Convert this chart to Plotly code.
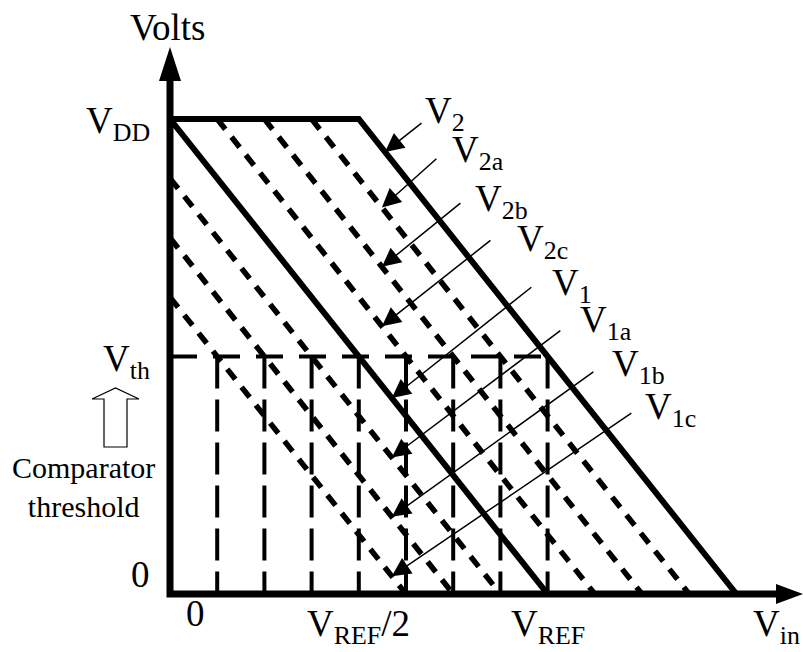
import plotly.graph_objects as go

# ---- chart values -------------------------------------------------------
VDD = 1.0          # supply level (top of every ramp)
VTH = 0.5          # comparator threshold
RUN = 8.0          # input steps for a ramp to fall from VDD to 0

ramp_names = ["V<sub>1c</sub>", "V<sub>1b</sub>", "V<sub>1a</sub>", "V<sub>1</sub>",
              "V<sub>2c</sub>", "V<sub>2b</sub>", "V<sub>2a</sub>", "V<sub>2</sub>"]
ramp_offsets = [-3, -2, -1, 0, 1, 2, 3, 4]          # input shift of each ramp
ramp_solid = [False, False, False, True, False, False, False, True]

x_tick_pos = [0.55, 4.0, 8.0]
x_tick_text = ["0", "V<sub>REF</sub>/2", "V<sub>REF</sub>"]
y_tick_pos = [VDD, VTH, 0.0]
y_tick_text = ["V<sub>DD</sub>", "V<sub>th</sub>", "0"]

# where each leader arrow touches its ramp (input value)
leader_tip_x = [4.70, 4.70, 4.70, 4.70, 4.49, 4.49, 4.49, 4.555]

# ---- canvas geometry ----------------------------------------------------
W, H = 803, 652
X0_PX, XSTEP_PX = 170.0, 47.2      # pixel of input 0 and of one input step
Y0_PX, YSPAN_PX = 594.0, 475.0     # pixel of 0 V and height of VDD
X_RANGE = [(0 - X0_PX) / XSTEP_PX, (W - X0_PX) / XSTEP_PX]
Y_RANGE = [(Y0_PX - H) / YSPAN_PX, Y0_PX / YSPAN_PX]


def px2x(px):
    return (px - X0_PX) / XSTEP_PX


def py2y(py):
    return (Y0_PX - py) / YSPAN_PX


def ramp_y(x, off):
    return VDD - (x - off) / RUN * VDD


FONT = "Liberation Serif"
BIG = 37
MID = 30

fig = go.Figure()

# threshold line and the drop lines at every crossing
cross_x = [off + RUN * (VDD - VTH) / VDD for off in ramp_offsets]
fig.add_trace(go.Scatter(x=[0, max(cross_x)], y=[VTH, VTH], mode="lines",
                         line=dict(color="black", width=4, dash="27px,16px"),
                         hoverinfo="skip"))
for cx in cross_x:
    fig.add_trace(go.Scatter(x=[cx, cx], y=[VTH, 0], mode="lines",
                             line=dict(color="black", width=4, dash="32px,11px"),
                             hoverinfo="skip"))

# ramps
for name, off, solid in zip(ramp_names, ramp_offsets, ramp_solid):
    xs_start = max(0.0, off)
    xs = [xs_start, off + RUN]
    ys = [ramp_y(xs_start, off), 0.0]
    if off == max(ramp_offsets):
        xs = [0.0] + xs
        ys = [VDD] + ys
    fig.add_trace(go.Scatter(
        x=xs, y=ys, mode="lines", name=name, hoverinfo="skip",
        line=dict(color="black", width=6 if solid else 5.5,
                  dash="solid" if solid else "13px,10px")))

# axes
y_top = py2y(78)
x_end = px2x(780)
fig.add_trace(go.Scatter(x=[0, 0, x_end], y=[y_top, 0, 0], mode="lines",
                         line=dict(color="black", width=7), hoverinfo="skip"))

shapes = []
# arrow heads on the axes
tip_y = py2y(47)
shapes.append(dict(type="path", xref="x", yref="y",
                   path=f"M {px2x(159)},{py2y(81)} L 0,{tip_y} L {px2x(181)},{py2y(81)} Z",
                   fillcolor="black", line=dict(width=0)))
shapes.append(dict(type="path", xref="x", yref="y",
                   path=f"M {px2x(776)},{py2y(584)} L {px2x(803)},0 L {px2x(776)},{py2y(604)} Z",
                   fillcolor="black", line=dict(width=0)))
# hollow arrow beside the threshold
hx = [92, 115.5, 139, 127, 127, 104, 104, 92]
hy = [399, 388, 399, 399, 447, 447, 399, 399]
path = "M " + " L ".join(f"{px2x(a)},{py2y(b)}" for a, b in zip(hx, hy)) + " Z"
shapes.append(dict(type="path", xref="x", yref="y", path=path,
                   fillcolor="white", line=dict(color="black", width=1.2)))

ann = []
# leader arrows from labels to the ramps
tail_offsets = [(241, -164), (203, -146), (170, -128), (141, -112),
                (110, -87), (80, -65), (56, -50), (38, -30)]
label_px = [(645, 403), (612, 360), (580, 316), (552, 279),
            (517, 235), (475, 195), (452, 146), (425, 107)]
for name, off, tx, (ax, ay), (lx, ly) in zip(ramp_names, ramp_offsets, leader_tip_x,
                                              tail_offsets, label_px):
    ann.append(dict(x=tx, y=ramp_y(tx, off), xref="x", yref="y", text="",
                    showarrow=True, ax=ax, ay=ay, arrowhead=2, arrowsize=2.5,
                    arrowwidth=1.5, arrowcolor="black", standoff=0))
    ann.append(dict(x=px2x(lx - 2), y=py2y(ly + 6), xref="x", yref="y", text=name,
                    showarrow=False, xanchor="left", yanchor="middle",
                    font=dict(family=FONT, size=BIG, color="black")))

# axis labels
label_y_px = [613, 626, 626]
for pos, txt, lyp in zip(x_tick_pos, x_tick_text, label_y_px):
    ann.append(dict(x=pos, y=py2y(lyp), xref="x", yref="y", text=txt, showarrow=False,
                    xanchor="center", yanchor="middle",
                    font=dict(family=FONT, size=BIG, color="black")))
ann.append(dict(x=px2x(776), y=py2y(626), xref="x", yref="y", text="V<sub>in</sub>",
                showarrow=False, xanchor="center", yanchor="middle",
                font=dict(family=FONT, size=BIG, color="black")))

y_label_dy = [4, 5, -20]
for pos, txt, dy in zip(y_tick_pos, y_tick_text, y_label_dy):
    ann.append(dict(x=px2x(152), y=pos, yshift=-dy, xref="x", yref="y", text=txt,
                    showarrow=False, xanchor="right", yanchor="middle",
                    font=dict(family=FONT, size=BIG, color="black")))

ann.append(dict(x=px2x(167), y=py2y(27), xref="x", yref="y", text="Volts",
                showarrow=False, xanchor="center", yanchor="middle",
                font=dict(family=FONT, size=BIG, color="black")))
ann.append(dict(x=px2x(83), y=py2y(487), xref="x", yref="y",
                text="Comparator<br>threshold", showarrow=False,
                xanchor="center", yanchor="middle",
                font=dict(family=FONT, size=MID, color="black")))

fig.update_layout(
    width=W, height=H, margin=dict(l=0, r=0, t=0, b=0),
    paper_bgcolor="white", plot_bgcolor="white", showlegend=False,
    xaxis=dict(range=X_RANGE, visible=False, fixedrange=True),
    yaxis=dict(range=Y_RANGE, visible=False, fixedrange=True),
    shapes=shapes, annotations=ann,
)

fig.write_html("out.html")
